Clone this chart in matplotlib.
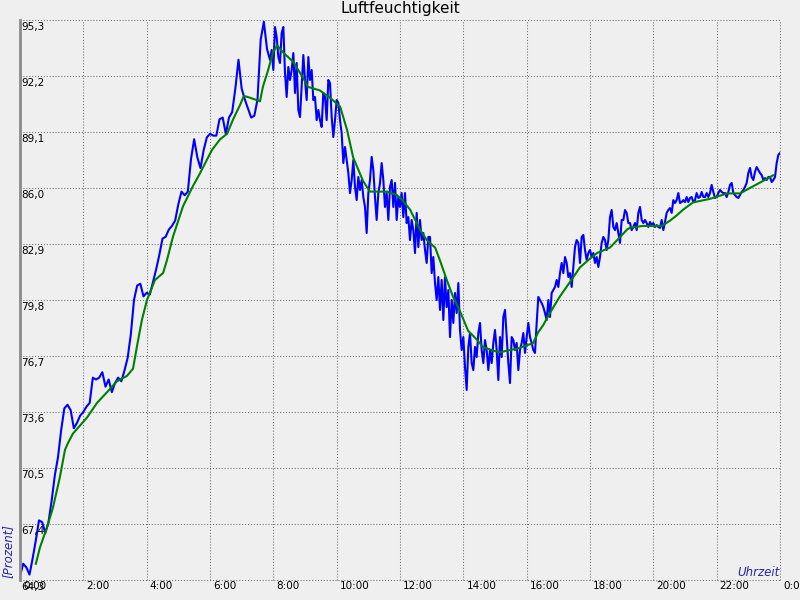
import numpy as np
import matplotlib
matplotlib.use("Agg")
import matplotlib.pyplot as plt
from matplotlib.transforms import ScaledTranslation, blended_transform_factory

# ---------------- data ----------------
title = "Luftfeuchtigkeit"
y_label = "[Prozent]"
x_label = "Uhrzeit"

y_ticks = [64.3, 67.4, 70.5, 73.6, 76.7, 79.8, 82.9, 86.0, 89.1, 92.2, 95.3]
x_ticks = [0, 2, 4, 6, 8, 10, 12, 14, 16, 18, 20, 22, 24]
x_tick_labels = ["0:00", "2:00", "4:00", "6:00", "8:00", "10:00", "12:00",
                 "14:00", "16:00", "18:00", "20:00", "22:00", "0:00"]

# raw humidity, part 1: 0:00 - 7:48, one sample every 0.1 h
raw1_start_h = 0.0
raw1_step_h = 0.1
raw1_values = [
    64.5, 65.2, 65.0, 64.6, 65.5, 66.5, 67.6, 67.5, 66.9, 67.5,
    68.7, 70.1, 71.1, 72.6, 73.8, 74.0, 73.7, 72.7, 73.0, 73.4,
    73.6, 73.9, 74.1, 75.5, 75.4, 75.5, 75.8, 75.0, 75.4, 74.7,
    75.2, 75.5, 75.3, 75.9, 76.6, 77.9, 79.8, 80.6, 80.7, 80.0,
    80.2, 80.1, 80.8, 81.5, 82.3, 83.2, 83.3, 83.7, 83.9, 84.2,
    85.1, 85.8, 85.6, 85.8, 87.6, 88.7, 87.7, 87.1, 88.1, 88.8,
    89.0, 88.9, 88.9, 89.8, 89.9, 89.0, 89.9, 90.2, 91.5, 93.1,
    91.5, 90.9, 90.4, 89.9, 90.0, 90.9, 94.2, 95.2, 93.7,
]

# raw humidity, part 2: from 7:54 to 24:00, one sample every 1/19 h
raw2_start_h = 150 / 19
raw2_step_h = 1 / 19
raw2_values = [
    93.09, 93.64, 92.53, 94.91, 94.36, 93.25, 92.92, 94.58, 94.91, 92.37,
    91.04, 92.70, 91.98, 92.53, 93.47, 91.26, 92.92, 90.32, 89.93, 91.59,
    93.36, 91.98, 90.87, 93.25, 91.98, 92.53, 90.87, 91.04, 89.76, 90.32,
    89.76, 89.38, 91.26, 91.04, 89.76, 91.98, 91.81, 89.93, 88.82, 89.76,
    90.87, 90.71, 89.76, 89.04, 87.38, 88.27, 87.55, 86.83, 85.72, 86.44,
    87.55, 86.06, 85.33, 86.61, 85.89, 86.44, 85.50, 84.95, 83.51, 85.72,
    86.44, 87.72, 86.99, 85.50, 84.23, 85.72, 86.28, 87.38, 86.44, 84.95,
    85.72, 84.23, 86.06, 86.44, 84.95, 86.28, 84.23, 85.50, 84.95,
    85.72, 84.39, 85.72, 84.06, 84.39, 83.12, 84.23, 83.67, 82.40, 84.62,
    82.73, 84.23, 83.12, 83.51, 82.57, 81.85, 83.29, 83.29, 81.29, 82.18,
    80.74, 79.80, 81.07, 79.25, 80.91, 78.69, 81.07, 79.41, 80.35, 77.75,
    79.80, 78.53, 80.19, 79.08, 80.74, 78.14, 77.03, 77.75, 76.09, 74.82,
    77.20, 77.97, 76.31, 75.92, 77.20, 76.64, 77.97, 78.53, 77.03, 76.31,
    77.58, 77.03, 75.92, 77.03, 76.31, 77.42, 78.14, 77.03, 75.37, 77.75,
    76.64, 78.86, 79.25, 77.75, 76.31, 75.20, 77.75, 77.58, 77.03, 77.42,
    75.92, 77.03, 77.42, 77.97, 76.87, 77.75, 78.53, 77.75, 77.42, 77.03,
    76.87, 78.53, 79.97,
    79.80, 79.63, 79.41, 79.08, 78.69, 79.80, 78.86, 80.19, 80.35, 80.52,
    80.91, 80.52, 81.29, 81.85, 81.29, 82.18, 81.85, 81.07, 81.29, 80.52,
    81.63, 82.73, 83.12, 82.96, 81.85, 83.29, 83.40, 82.57, 82.01, 82.40,
    82.57, 82.18, 82.40, 81.85, 82.18, 81.63, 82.18, 82.96, 83.29, 83.12,
    82.57, 83.12, 84.39, 84.78, 83.84, 83.67, 84.06, 83.51, 82.96, 84.23,
    84.23, 84.78, 84.62, 84.06, 84.06, 83.67, 83.84, 84.06, 83.67, 84.62,
    84.95, 84.23, 84.06, 84.23, 84.06, 83.84, 84.12, 83.95, 84.06, 83.84,
    83.95, 83.84,
    83.79, 84.23, 83.67, 84.12, 84.62, 84.78, 84.89, 84.62, 85.33, 85.17,
    85.33, 85.72, 85.17, 85.22, 85.33, 85.22, 85.50, 85.22, 85.45, 85.50,
    85.22, 85.33, 85.72, 85.45, 85.50, 85.78, 85.50, 85.50, 85.72, 85.50,
    85.72, 86.17, 85.78, 85.45, 85.50, 85.72, 85.89, 85.78, 85.72, 85.72,
    85.50, 85.78, 86.17, 86.28, 85.72, 85.61, 85.50, 85.45, 85.61, 85.78,
    85.89, 86.06, 86.28, 86.83, 87.11, 86.61, 86.44, 86.89, 87.16, 86.99,
    86.83, 86.72, 86.44, 86.55, 86.44, 86.61, 86.61, 86.33, 86.44, 86.61,
    87.38, 87.83, 87.94,
]

# smoothed humidity
smooth_times = [0.50, 0.63, 0.85, 1.04, 1.26, 1.42, 1.52, 1.67, 2.12, 2.43,
                2.75, 3.06, 3.38, 3.57, 3.69, 3.85, 4.01, 4.26, 4.52, 4.64,
                4.83, 5.15, 5.46, 5.68, 6.06, 6.32, 6.54, 6.73, 6.95, 7.07,
                7.26, 7.58, 7.67, 7.83, 7.99, 8.12, 8.31, 8.62, 8.94, 9.09,
                9.47, 9.79, 10.11, 10.33, 10.52, 10.83, 11.05, 11.37, 11.59, 11.91,
                12.09, 12.32, 12.63, 12.85, 13.11, 13.26, 13.48, 13.67, 13.89, 14.15,
                14.43, 14.62, 14.94, 15.16, 15.38, 15.69, 16.01, 16.20, 16.36, 16.52,
                16.74, 17.05, 17.37, 17.68, 17.94, 18.22, 18.63, 18.85, 19.17, 19.26,
                19.67, 20.15, 20.27, 20.53, 20.75, 20.94, 21.25, 21.79, 22.33, 22.74,
                23.05, 23.37, 23.78]
smooth_values = [65.2, 66.1, 67.2, 68.3, 70.0, 71.5, 71.9, 72.4, 73.3, 74.1,
                 74.7, 75.3, 75.6, 76.0, 77.2, 78.7, 79.8, 80.9, 81.3, 82.0,
                 83.3, 85.0, 86.1, 86.8, 88.1, 88.7, 89.0, 89.8, 90.6, 91.1,
                 91.0, 90.8, 91.6, 92.5, 93.5, 93.9, 93.5, 93.0, 92.1, 91.6,
                 91.4, 91.0, 90.5, 89.2, 87.7, 86.4, 85.8, 85.8, 85.8, 85.6,
                 85.3, 84.8, 83.7, 83.1, 82.7, 82.0, 80.9, 80.0, 79.2, 78.1,
                 77.6, 77.2, 77.0, 76.9, 77.0, 77.1, 77.3, 77.4, 78.0, 78.4,
                 79.1, 80.0, 80.8, 81.6, 82.0, 82.4, 82.7, 83.1, 83.7, 83.8,
                 83.9, 83.9, 83.9, 84.2, 84.5, 84.8, 85.2, 85.4, 85.7, 85.7,
                 86.0, 86.3, 86.7]

# ---------------- style ----------------
BG = "#EFEFEF"
GRID = "#6E6E6E"
LABEL_BLUE = "#2626A6"

fig = plt.figure(figsize=(8, 6), dpi=100, facecolor=BG)
ax = fig.add_axes([20 / 800, 20 / 600, 760 / 800, 560 / 600])
ax.set_facecolor(BG)

raw_times = np.concatenate([
    raw1_start_h + np.arange(len(raw1_values)) * raw1_step_h,
    raw2_start_h + np.arange(len(raw2_values)) * raw2_step_h,
])
raw_values = list(raw1_values) + list(raw2_values)

ax.plot(raw_times, raw_values, color="#0000FF", lw=1.5, zorder=3)
ax.plot(smooth_times, smooth_values, color="#008000", lw=1.5, zorder=4)

ax.set_xlim(0, 24)
ax.set_ylim(y_ticks[0], y_ticks[-1])
ax.set_xticks(x_ticks)
ax.set_yticks(y_ticks)
ax.tick_params(length=0, labelbottom=False, labelleft=False)
ax.grid(True, color=GRID, linestyle=(0, (1, 1.8)), linewidth=0.75, zorder=1)
for gl in ax.get_xgridlines() + ax.get_ygridlines():
    gl.set_clip_on(False)

for s in ["top", "right", "bottom"]:
    ax.spines[s].set_visible(False)
ax.spines["left"].set_color("#8A8A8A")
ax.spines["left"].set_linewidth(2.0)
ax.spines["left"].set_zorder(5)

# y tick labels inside the plot, just below each grid line
ytrans = blended_transform_factory(ax.transAxes, ax.transData) + \
    ScaledTranslation(1.5 / 100, -2 / 100, fig.dpi_scale_trans)
for v in y_ticks:
    ax.text(0, v, f"{v:.1f}".replace(".", ","), transform=ytrans,
            ha="left", va="top", fontsize=7.5, color="black", zorder=6, clip_on=False)

# x tick labels, left-aligned just right of each grid line
xtrans = blended_transform_factory(ax.transData, ax.transAxes) + \
    ScaledTranslation(3 / 100, -1 / 100, fig.dpi_scale_trans)
for t, lab in zip(x_ticks, x_tick_labels):
    ax.text(t, 0, lab, transform=xtrans, ha="left", va="top",
            fontsize=7.5, color="black", clip_on=False)

fig.text(0.5, 1 - 8 / 600, title, ha="center", va="center", fontsize=11, color="black")
fig.text(8 / 800, 1 - 578 / 600, y_label, rotation=90, ha="center", va="bottom",
         fontsize=8.5, style="italic", color=LABEL_BLUE)
fig.text(780 / 800, 1 - 572 / 600, x_label, ha="right", va="center",
         fontsize=8.5, style="italic", color=LABEL_BLUE)

fig.savefig("out.png", dpi=100, facecolor=BG)
